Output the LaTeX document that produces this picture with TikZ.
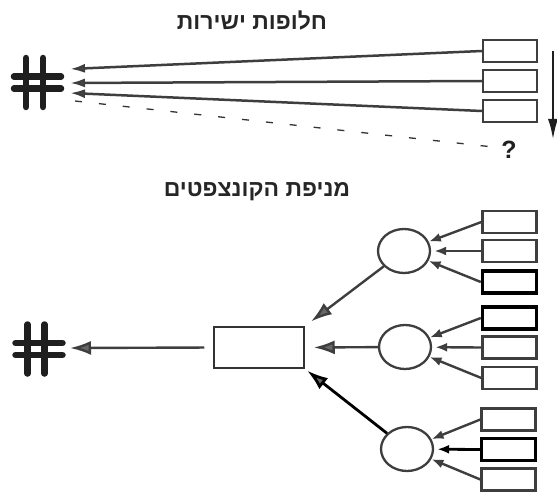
\documentclass[tikz,border=0pt]{standalone}
\usepackage{fontspec}
\newfontfamily\hebfont[Script=Hebrew]{Liberation Sans}
\newfontfamily\labelfont{Liberation Sans}
\TeXXeTstate=1
\usetikzlibrary{arrows.meta,calc,shapes.geometric}

\definecolor{ink}{HTML}{3E3E3E}
\definecolor{tipfill}{HTML}{676767}

\tikzset{
  hashsign/.pic={
    \draw[line width=6.5pt, line cap=round, draw=black!88]
      (-11.5,-24.5) -- (-11.5,24.5)
      (5.5,-24.5) -- (5.5,24.5)
      (-23.5,-6) -- (23.5,-6)
      (-23.5,6) -- (23.5,6);
  },
  hashbox/.style={inner sep=0pt, minimum width=50pt, minimum height=50pt},
  itembox/.style={draw=ink, line width=2.3pt, inner sep=0pt,
    minimum width=54pt, minimum height=22pt},
  keybox/.style={itembox, draw=black, line width=3.4pt},
  hub/.style={draw=black!80, line width=1.5pt, inner sep=0pt,
    minimum width=90pt, minimum height=41pt},
  concept/.style={ellipse, draw=ink, line width=2.3pt, inner sep=0pt,
    minimum width=52pt, minimum height=44pt},
  title/.style={font=\hebfont\bfseries\fontsize{23}{26}\selectfont,
    text=black!85, inner sep=0pt},
  smallarrow/.style={draw=ink, line width=2.5pt,
    -{Latex[length=15pt,width=9pt,fill=tipfill]}},
  feed/.style={draw=ink, line width=2.4pt,
    -{Latex[length=12pt,width=9pt,fill=tipfill]}},
  bigarrow/.style={draw=ink, line width=2.4pt,
    -{Latex[length=21pt,width=14pt,fill=tipfill]}},
}

\begin{document}
\begin{tikzpicture}[x=1pt,y=-1pt]
  \useasboundingbox (0,0) rectangle (557,492);

  % ---------- direct alternatives ----------
  \node[title] (t-top) at (252,20) {\beginR חלופות ישירות\endR};

  \node[hashbox] (h1) at (37.5,82.5) {};
  \pic at (h1) {hashsign};

  \node[itembox] (a1) at (510,51) {};
  \node[itembox] (a2) at (510,81) {};
  \node[itembox] (a3) at (510,111) {};
  \node[font=\labelfont\bfseries\fontsize{25}{28}\selectfont, inner sep=0pt,
    text=black!88] (q) at (509,150) {?};

  \coordinate (e1) at (70,69);
  \coordinate (e2) at (70,83);
  \coordinate (e3) at (70,93);
  \coordinate (e4) at (75,101);

  \draw[smallarrow] (a1.west) -- (e1);
  \draw[smallarrow] (a2.west) -- (e2);
  \draw[smallarrow] (a3.west) -- (e3);
  \draw[draw=black!80, line width=1.3pt, dash pattern=on 7pt off 17pt]
    (e4) -- ($(q.west)+(-8,-3)$);

  \coordinate (v1) at (553,51);
  \coordinate (v2) at (553,140);
  \draw[draw=black!88, line width=2.6pt,
    -{Latex[length=21pt,width=10pt,fill=black!88]}] (v1) -- (v2);

  % ---------- concept fan ----------
  \node[title] (t-fan) at (257,192) {\beginR מניפת הקונצפטים\endR};

  \node[hashbox] (h2) at (39,349) {};
  \pic at (h2) {hashsign};
  \coordinate (e5) at (70,348);

  \node[hub] (c) at (259,347.5) {};

  \node[concept] (k1) at (404,251) {};
  \node[concept] (k2) at (405,347) {};
  \node[concept] (k3) at (407,449) {};

  \node[itembox] (b1) at (509.5,222) {};
  \node[itembox] (b2) at (509.5,251) {};
  \node[keybox]  (b3) at (509.5,282) {};
  \node[keybox]  (b4) at (509.5,318) {};
  \node[itembox] (b5) at (509.5,347.5) {};
  \node[itembox] (b6) at (509.5,378) {};
  \node[itembox] (b7) at (508.5,419.5) {};
  \node[keybox]  (b8) at (508.5,449.5) {};
  \node[itembox] (b9) at (508.5,479.5) {};

  \draw[bigarrow, shorten <=9pt] (c.west) -- (e5);

  \draw[bigarrow, shorten >=8pt] (k1) -- (c.north east);
  \draw[bigarrow, shorten >=9pt] (k2) -- (c.east);
  \draw[bigarrow, draw=black, line width=2.8pt, shorten >=3pt] (k3) -- (c.south east);

  \draw[feed] (b1.west) -- (k1);
  \draw[feed, shorten >=3pt] (b2.west) -- (k1);
  \draw[feed] (b3.west) -- (k1);
  \draw[feed] (b4.west) -- (k2);
  \draw[feed, shorten >=3pt] (b5.west) -- (k2);
  \draw[feed] (b6.west) -- (k2);
  \draw[feed] (b7.west) -- (k3);
  \draw[feed, draw=black, line width=2.8pt,
    -{Latex[length=12pt,width=9pt,fill=black]}, shorten >=3pt] (b8.west) -- (k3);
  \draw[feed] (b9.west) -- (k3);
\end{tikzpicture}
\end{document}
